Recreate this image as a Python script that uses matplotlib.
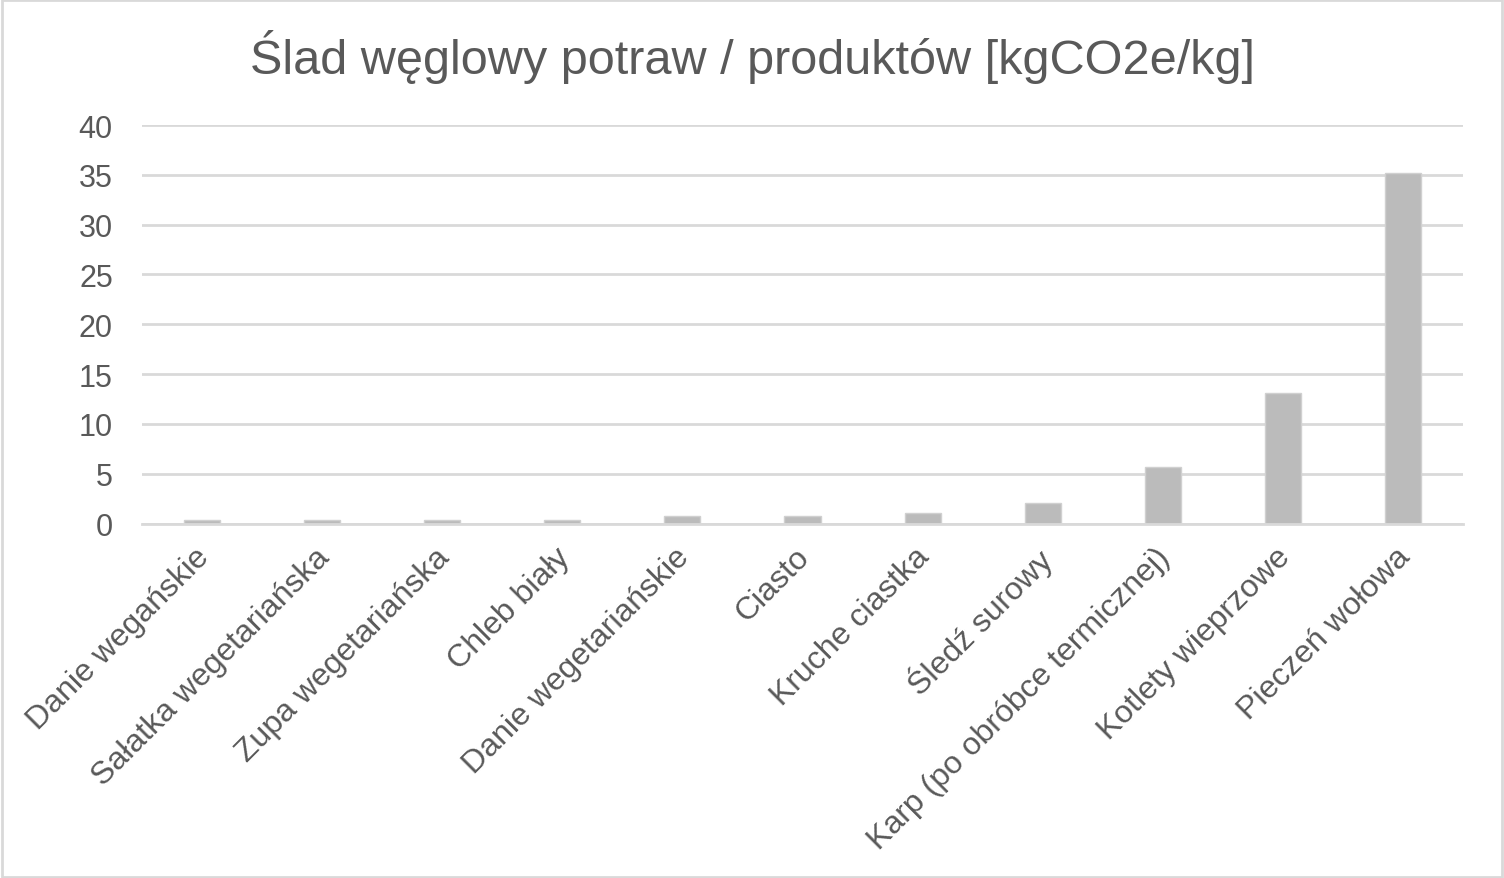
import matplotlib.pyplot as plt
import matplotlib.transforms as mtransforms
import numpy as np
from matplotlib.patches import Rectangle

plt.rcParams['font.family'] = ['Liberation Sans', 'DejaVu Sans']

# Dane
produkty = ['Danie wegańskie', 'Sałatka wegetariańska', 'Zupa wegetariańska',
            'Chleb biały', 'Danie wegetariańskie', 'Ciasto', 'Kruche ciastka',
            'Śledź surowy', 'Karp (po obróbce termicznej)', 'Kotlety wieprzowe',
            'Pieczeń wołowa']
slad = [0.4, 0.4, 0.4, 0.4, 0.75, 0.75, 1.1, 2.1, 5.7, 13.1, 35.2]
osie_y = [0, 5, 10, 15, 20, 25, 30, 35, 40]

szary = '#595959'

fig = plt.figure(figsize=(15.04, 8.79), dpi=100)
ax = fig.add_axes([142 / 1504, 1 - 524.5 / 879, (1463 - 142) / 1504, (524.5 - 126) / 879])

x = np.arange(len(produkty))
ax.bar(x, slad, width=0.3, color='#BBBBBB', edgecolor='#D0D0D0', linewidth=1, zorder=3)

ax.set_xlim(-0.5, len(produkty) - 0.5)
ax.set_ylim(0, 40)
ax.set_yticks(osie_y)
ax.set_yticklabels([str(v) for v in osie_y], fontsize=22, color=szary)
ax.set_xticks(x)
ax.set_xticklabels(produkty, rotation=45, ha='right', va='top', rotation_mode='anchor',
                   fontsize=23, color=szary)
ax.tick_params(axis='both', length=0)
ax.tick_params(axis='y', pad=21)
ax.tick_params(axis='x', pad=13)

# lekkie przesunięcie etykiet w lewo
przes = mtransforms.ScaledTranslation(-8 / 100, 0, fig.dpi_scale_trans)
for lab in ax.get_xticklabels():
    lab.set_transform(lab.get_transform() + przes)

ax.grid(axis='y', color='#D9D9D9', linewidth=2, zorder=0)
for s in ['top', 'right', 'left']:
    ax.spines[s].set_visible(False)
ax.spines['bottom'].set_color('#D9D9D9')
ax.spines['bottom'].set_linewidth(2)
ax.spines['bottom'].set_zorder(4)

fig.text(0.5, 1 - 57 / 879, 'Ślad węglowy potraw / produktów [kgCO2e/kg]',
         ha='center', va='center', fontsize=35, color=szary)

fig.patches.append(Rectangle((0.001, 0.001), 0.998, 0.998, transform=fig.transFigure,
                             fill=False, edgecolor='#D9D9D9', linewidth=2))

fig.savefig('out.png', dpi=100)
